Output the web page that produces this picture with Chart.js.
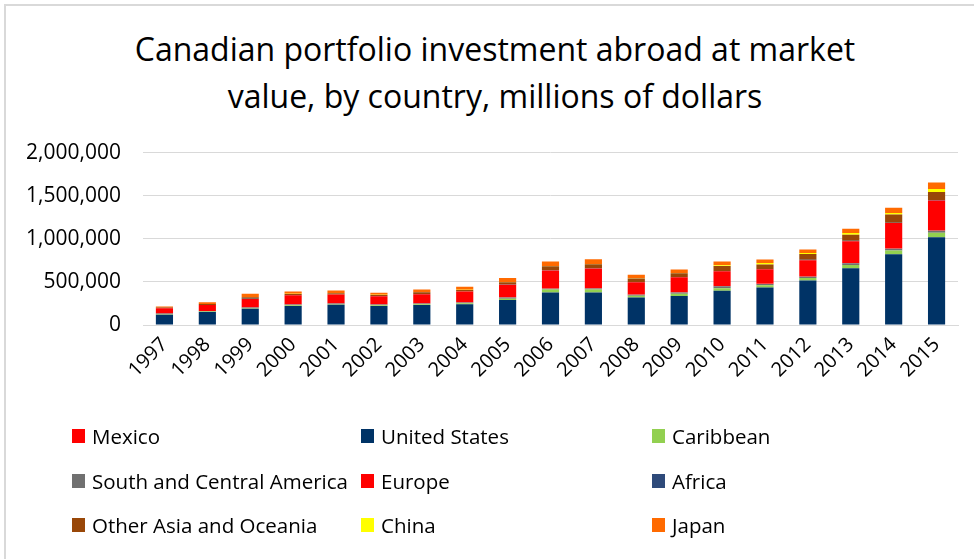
<!DOCTYPE html>
<html lang="en">
<head>
<meta charset="UTF-8">
<title>Canadian portfolio investment abroad</title>
<script src="https://cdn.jsdelivr.net/npm/chart.js"></script>
<style>
  html, body { margin: 0; padding: 0; background: #fff; }
  body { width: 974px; height: 559px; position: relative; overflow: hidden; font-family: "Open Sans", sans-serif; }
  #frame { position: absolute; left: 4px; top: 4px; width: 980px; height: 570px; border: 2px solid #d9d9d9; box-sizing: border-box; }
  #title { position: absolute; left: 0; top: 25px; width: 990px; text-align: center; font-size: 32px; line-height: 47px; color: #000; }
  #wrap { position: absolute; left: 0; top: 118px; width: 974px; height: 307px; }
  #legend { position: absolute; left: 0; top: 0; width: 974px; height: 559px; pointer-events: none; }
  .item { position: absolute; font-size: 20.5px; color: #000; white-space: nowrap; line-height: 24px; }
  .item span.box { position: absolute; left: -20px; top: 5px; width: 13px; height: 14px; }
</style>
</head>
<body>
<div id="frame"></div>
<div id="title">Canadian portfolio investment abroad at market<br>value, by country, millions of dollars</div>
<div id="wrap"><canvas id="chart"></canvas></div>
<div id="legend"></div>
<script>
const years = ['1997','1998','1999','2000','2001','2002','2003','2004','2005','2006','2007','2008','2009','2010','2011','2012','2013','2014','2015'];

const mexico        = [1000, 1000, 1500, 1500, 1500, 1500, 2000, 2000, 2500, 3000, 3000, 2500, 3000, 3500, 3500, 4000, 4500, 5000, 5500];
const unitedStates  = [118000, 150000, 188000, 219000, 235000, 219000, 231000, 242000, 289000, 377000, 377000, 320000, 335000, 396000, 435000, 515000, 658000, 820000, 1017000];
const caribbean     = [6000, 6000, 7000, 9000, 7000, 9000, 9000, 10000, 16000, 35000, 35000, 19000, 27000, 31000, 27000, 30000, 38000, 45000, 53000];
const southCentral  = [8000, 6000, 8000, 10000, 8000, 10000, 10000, 9000, 15000, 8000, 12000, 12000, 15000, 23000, 15000, 15000, 19000, 19000, 23000];
const europe        = [60000, 68000, 98000, 106000, 102000, 94000, 105000, 125000, 143000, 208000, 228000, 143000, 173000, 169000, 166000, 188000, 252000, 293000, 345000];
const africa        = [1000, 1000, 1500, 1500, 1500, 1500, 2000, 2000, 3000, 4000, 4000, 3000, 3000, 4000, 4000, 4000, 5000, 5000, 6000];
const otherAsia     = [8000, 12000, 18000, 14000, 14000, 14000, 21000, 17000, 28000, 46000, 46000, 40000, 44000, 58000, 50000, 68000, 71000, 94000, 93000];
const china         = [500, 500, 1000, 1000, 1000, 1000, 1000, 1500, 2000, 3000, 4000, 3000, 4000, 8000, 19000, 11000, 19000, 19000, 34000];
const japan         = [12000, 19000, 39000, 27000, 31000, 23000, 31000, 35000, 47000, 54000, 54000, 39000, 39000, 43000, 39000, 42000, 49000, 61000, 76000];

const yTicks = [0, 500000, 1000000, 1500000, 2000000];

// legend order (row by row, as in the original)
const seriesNames  = ['Mexico', 'United States', 'Caribbean', 'South and Central America', 'Europe', 'Africa', 'Other Asia and Oceania', 'China', 'Japan'];
const seriesData   = [mexico, unitedStates, caribbean, southCentral, europe, africa, otherAsia, china, japan];
const seriesColors = ['#ff0000', '#003366', '#92d050', '#707070', '#ff0000', '#2e4a7a', '#994708', '#ffff00', '#ff6a00'];
// bottom-to-top stacking order (indexes into the arrays above)
const stackOrder = [1, 2, 3, 0, 4, 5, 6, 7, 8];

const datasets = stackOrder.map(i => ({
  label: seriesNames[i],
  data: seriesData[i],
  backgroundColor: seriesColors[i],
  borderWidth: 0,
  categoryPercentage: 1.0,
  barPercentage: 0.4
}));

const font = { family: '"Open Sans", sans-serif', size: 21 };

const ctx = document.getElementById('chart').getContext('2d');
new Chart(ctx, {
  type: 'bar',
  data: { labels: years, datasets: datasets },
  options: {
    responsive: true,
    maintainAspectRatio: false,
    animation: false,
    layout: { padding: { top: 0, right: 16, left: 0, bottom: 0 } },
    plugins: { legend: { display: false }, tooltip: { enabled: false }, title: { display: false } },
    scales: {
      x: {
        stacked: true,
        grid: { display: false },
        border: { color: '#d9d9d9', width: 1 },
        ticks: { color: '#000', font: { family: '"Open Sans", sans-serif', size: 20 }, minRotation: 45, maxRotation: 45, padding: 0 },
        afterFit: s => { s.height = 100; }
      },
      y: {
        stacked: true,
        min: 0,
        max: 2000000,
        afterBuildTicks: s => { s.ticks = yTicks.map(v => ({ value: v })); },
        grid: { color: '#d9d9d9', lineWidth: 1, drawTicks: false },
        border: { display: false },
        ticks: {
          color: '#000', font: font, padding: 22,
          callback: v => v.toLocaleString('en-US')
        },
        afterFit: s => { s.width = 143; }
      }
    }
  }
});

// legend laid out in three columns like the original
const legendPos = [[92, 424], [381, 424], [672, 424], [92, 469], [381, 469], [672, 469], [92, 513], [381, 513], [672, 513]];
const legend = document.getElementById('legend');
seriesNames.forEach((name, i) => {
  const el = document.createElement('div');
  el.className = 'item';
  el.style.left = legendPos[i][0] + 'px';
  el.style.top = legendPos[i][1] + 'px';
  el.innerHTML = '<span class="box" style="background:' + seriesColors[i] + '"></span>' + name;
  legend.appendChild(el);
});
</script>
</body>
</html>
